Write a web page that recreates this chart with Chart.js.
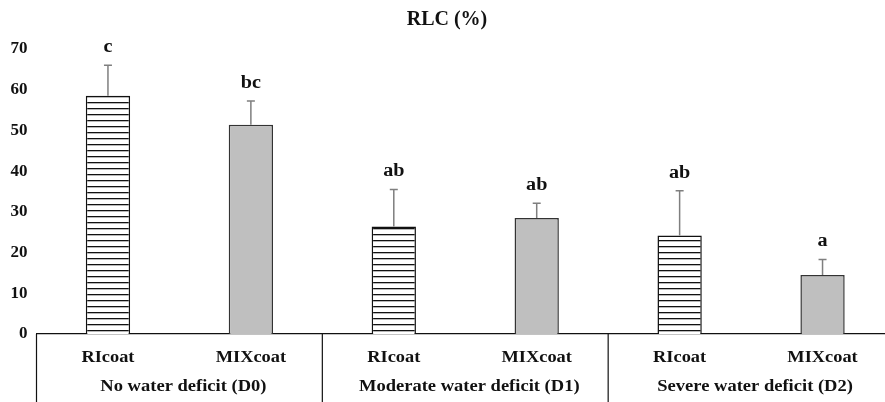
<!DOCTYPE html>
<html>
<head>
<meta charset="utf-8">
<script src="https://cdn.jsdelivr.net/npm/chart.js@4.4.0/dist/chart.umd.min.js"></script>
<style>
  html, body { margin: 0; padding: 0; background: #fff; overflow: hidden; }
  #wrap { width: 894px; height: 402px; }
</style>
</head>
<body>
<div id="wrap"><canvas id="rlc_chart"></canvas></div>
<script>
// treatments on the x axis, two bars per water regime
var categories = ['RIcoat', 'MIXcoat', 'RIcoat', 'MIXcoat', 'RIcoat', 'MIXcoat']
var groups = ['No water deficit (D0)', 'Moderate water deficit (D1)', 'Severe water deficit (D2)']
var rlcValues = [58.5, 51.4, 26.4, 28.5, 24.2, 14.5]
var rlcErrors = [7.5, 5.8, 9.1, 3.6, 11.0, 3.8]
var letters = ['c', 'bc', 'ab', 'ab', 'ab', 'a']
var yTicks = [0, 10, 20, 30, 40, 50, 60, 70]

var serif = '"Liberation Serif", "Times New Roman", serif'

// horizontal stripes for the RIcoat bars
function stripePattern() {
    var c = document.createElement('canvas')
    c.width = 6
    c.height = 6
    var g = c.getContext('2d')
    g.fillStyle = '#ffffff'
    g.fillRect(0, 0, 6, 6)
    g.fillStyle = '#111111'
    g.fillRect(0, 0, 6, 1.3)
    return g.createPattern(c, 'repeat')
}

var stripes = stripePattern()
var fills = categories.map(function (c) { return c === 'RIcoat' ? stripes : '#bfbfbf' })
var borders = categories.map(function (c) { return c === 'RIcoat' ? '#111111' : '#333333' })

// the original lettering is a bit wider than Liberation Serif
function wideText(ctx, text, x, y, sx) {
    ctx.save()
    ctx.translate(x, y)
    ctx.scale(sx, 1)
    ctx.fillText(text, 0, 0)
    ctx.restore()
}

var extras = {
    id: 'extras',
    afterDatasetsDraw: function (chart) {
        var ctx = chart.ctx
        var x = chart.scales.x
        var y = chart.scales.y
        var area = chart.chartArea
        ctx.save()
        // error bars (upper only) and letters
        rlcValues.forEach(function (v, i) {
            var px = x.getPixelForValue(i)
            var top = y.getPixelForValue(v)
            var cap = y.getPixelForValue(v + rlcErrors[i])
            ctx.strokeStyle = '#7f7f7f'
            ctx.lineWidth = 1.5
            ctx.beginPath()
            ctx.moveTo(px, top)
            ctx.lineTo(px, cap)
            ctx.moveTo(px - 4, cap)
            ctx.lineTo(px + 4, cap)
            ctx.stroke()
            ctx.fillStyle = '#111111'
            ctx.font = 'bold 18px ' + serif
            ctx.textAlign = 'center'
            ctx.textBaseline = 'alphabetic'
            wideText(ctx, letters[i], px, cap - 13, 1.12)
        })
        // category and group labels under the axis
        ctx.fillStyle = '#111111'
        ctx.textAlign = 'center'
        ctx.textBaseline = 'middle'
        ctx.font = 'bold 17px ' + serif
        categories.forEach(function (c, i) {
            wideText(ctx, c, x.getPixelForValue(i), area.bottom + 24, 1.08)
        })
        var step = x.getPixelForValue(1) - x.getPixelForValue(0)
        groups.forEach(function (gname, k) {
            var mid = (x.getPixelForValue(2 * k) + x.getPixelForValue(2 * k + 1)) / 2
            wideText(ctx, gname, mid + 4, area.bottom + 53, 1.09)
            var sep = x.getPixelForValue(2 * k) - step / 2
            ctx.strokeStyle = '#111111'
            ctx.lineWidth = 1.2
            ctx.beginPath()
            ctx.moveTo(sep, area.bottom)
            ctx.lineTo(sep, chart.height)
            ctx.stroke()
        })
        ctx.restore()
    }
}

window.addEventListener('DOMContentLoaded', function () {
    var ctx = document.getElementById('rlc_chart')
    new Chart(ctx, {
        type: 'bar',
        data: {
            labels: categories,
            datasets: [{
                label: 'RLC (%)',
                data: rlcValues,
                backgroundColor: fills,
                borderColor: borders,
                borderWidth: 1.5,
                barPercentage: 0.31,
                categoryPercentage: 1.0
            }]
        },
        options: {
            responsive: true,
            maintainAspectRatio: false,
            animation: false,
            layout: { padding: 0 },
            plugins: {
                legend: { display: false },
                tooltip: { enabled: false },
                title: {
                    display: true,
                    text: 'RLC (%)',
                    color: '#111111',
                    font: { family: serif, size: 20, weight: 'bold' },
                    padding: { top: 8, bottom: 17 }
                }
            },
            scales: {
                x: {
                    grid: { display: false, drawTicks: false },
                    border: { display: true, color: '#111111', width: 1.2 },
                    ticks: { display: false },
                    afterFit: function (s) { s.height = 68 }
                },
                y: {
                    min: 0,
                    max: 70,
                    afterBuildTicks: function (s) { s.ticks = yTicks.map(function (v) { return { value: v } }) },
                    grid: { display: false, drawTicks: false },
                    border: { display: false },
                    ticks: {
                        color: '#111111',
                        padding: 9,
                        font: { family: serif, size: 17, weight: 'bold' }
                    },
                    afterFit: function (s) { s.width = 36.5 }
                }
            }
        },
        plugins: [extras]
    })
})
</script>
</body>
</html>
